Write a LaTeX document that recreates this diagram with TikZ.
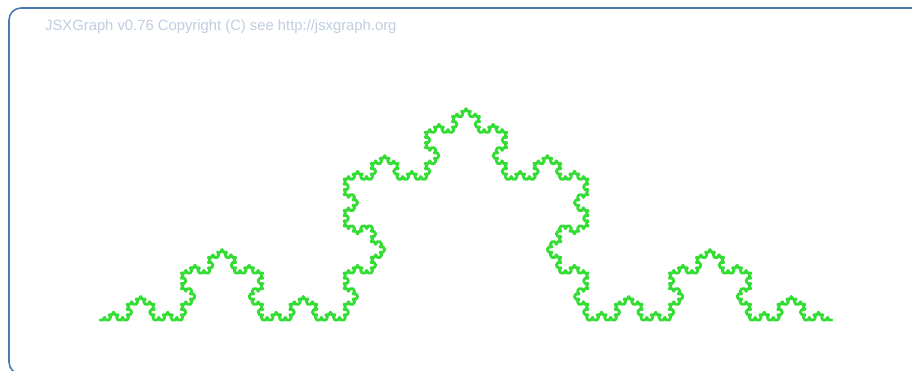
\documentclass[tikz,border=0pt]{standalone}
\usepackage{fontspec}
\setmainfont{Liberation Sans}
\usetikzlibrary{lindenmayersystems}
\definecolor{koch}{RGB}{51, 221, 51}
\definecolor{frame}{RGB}{78, 122, 180}
\definecolor{faint}{RGB}{192, 206, 224}

\pgfdeclarelindenmayersystem{Koch curve}{
  \rule{F -> F+F--F+F}
}

\begin{document}
\begin{tikzpicture}[x=1pt, y=1pt]
  \useasboundingbox (0, 0) rectangle (912, 371);
  \clip (0, 0) rectangle (912, 371);

  \fill[white] (0, 0) rectangle (912, 371);

  % board frame
  \draw[frame, line width=1.6, rounded corners=12] (9, 363) rectangle (940, -3);

  \node[faint, anchor=west, font=\fontsize{14.8}{17}\selectfont, inner sep=0] (copy) at (45, 344)
    {JSXGraph v0.76 Copyright (C) see http://jsxgraph.org};

  \pgfmathsetmacro{\len}{732 / 243}
  \begin{scope}[shift={(100, 51)}]
    \draw[koch, line width=2.8, line join=round, line cap=round,
      l-system={Koch curve, axiom=F, order=5, angle=60, step=\len pt}]
      lindenmayer system;
  \end{scope}

\end{tikzpicture}
\end{document}
